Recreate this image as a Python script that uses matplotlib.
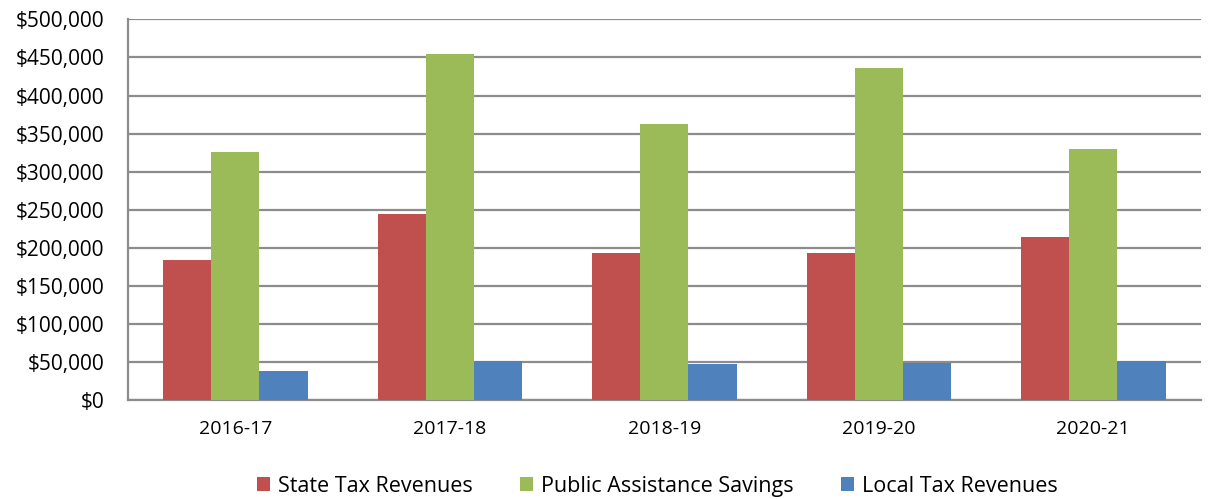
import matplotlib
matplotlib.use("Agg")
import matplotlib.pyplot as plt
import numpy as np
from matplotlib.ticker import FuncFormatter

categories = ["2016-17", "2017-18", "2018-19", "2019-20", "2020-21"]
state_tax = [184800, 244300, 193700, 193700, 214700]
public_assist = [326600, 454800, 362700, 436300, 330300]
local_tax = [39000, 51200, 47900, 49600, 51500]
series_names = ["State Tax Revenues", "Public Assistance Savings", "Local Tax Revenues"]
colors = ["#C0504D", "#9BBB59", "#4F81BD"]

plt.rcParams['font.family'] = ['Open Sans', 'DejaVu Sans']

fig = plt.figure(figsize=(12.09, 4.99), dpi=100)
ax = fig.add_axes([0.1059, 0.1974, 0.8871, 0.7639])

x = np.arange(len(categories))
w = 0.2245
for i, (vals, name, c) in enumerate(zip([state_tax, public_assist, local_tax], series_names, colors)):
    ax.bar(x + (i - 1) * w, vals, width=w, color=c, label=name, zorder=3)

ax.set_xlim(-0.5, len(categories) - 0.5)
ax.set_ylim(0, 500000)
ax.set_yticks(np.arange(0, 500001, 50000))
ax.yaxis.set_major_formatter(FuncFormatter(lambda v, p: f"${int(v):,}"))
ax.set_xticks(x)
ax.set_xticklabels(categories, fontsize=14)
ax.tick_params(axis='y', labelsize=15, length=0, pad=17)
ax.tick_params(axis='x', length=0, pad=14)
ax.grid(axis='y', color='#8C8C8C', linewidth=1.6, zorder=0)
for s in ['top', 'right']:
    ax.spines[s].set_visible(False)
for s in ['left', 'bottom']:
    ax.spines[s].set_color('#8C8C8C')
    ax.spines[s].set_linewidth(1.6)

fig.legend(loc='center', bbox_to_anchor=(0.544, 0.026), ncol=3, frameon=False,
           fontsize=15.5, handlelength=0.6, handleheight=0.6, handletextpad=0.37,
           columnspacing=2.2)

fig.savefig("out.png", dpi=100)
